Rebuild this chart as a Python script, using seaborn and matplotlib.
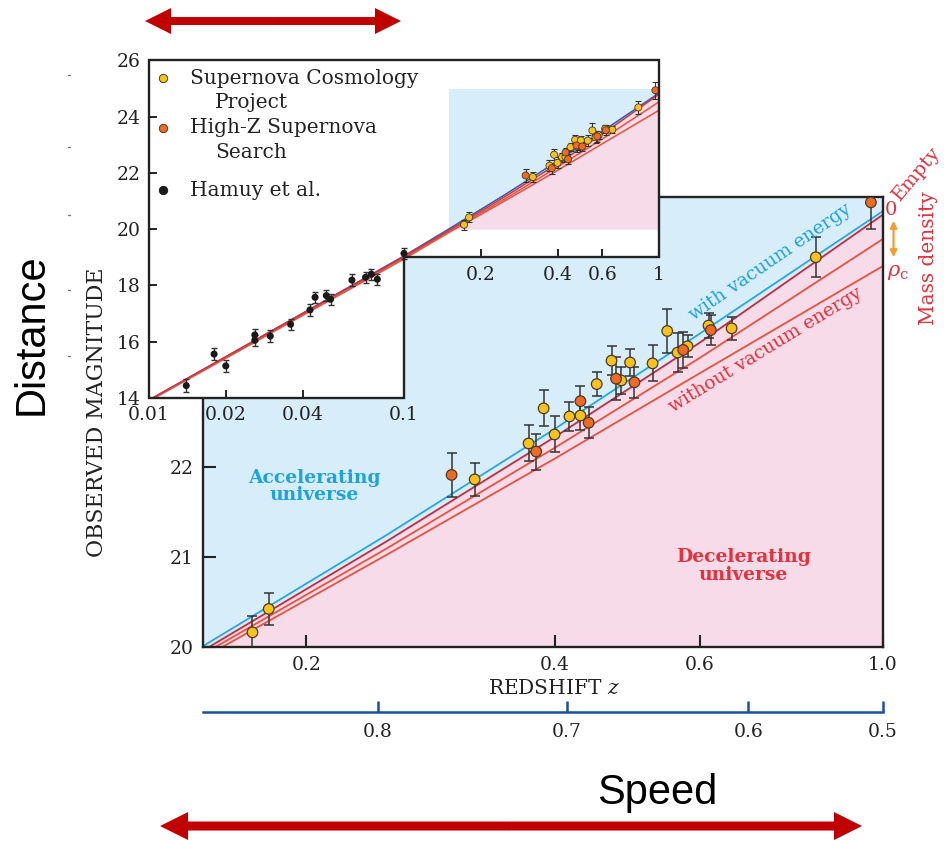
import numpy as np
import pandas as pd
import matplotlib
matplotlib.use("Agg")
import matplotlib.pyplot as plt
import seaborn as sns
from matplotlib.patches import Polygon, FancyArrow
from matplotlib.lines import Line2D
from matplotlib.ticker import NullLocator

# ---------------- data ----------------
scp_z = [0.172, 0.180, 0.320, 0.372, 0.388, 0.400, 0.417, 0.430, 0.450, 0.469,
         0.482, 0.494, 0.526, 0.548, 0.564, 0.580, 0.615, 0.656, 0.830]
scp_m = [20.16, 20.42, 21.86, 22.26, 22.65, 22.36, 22.56, 22.57, 22.92, 23.18,
         22.96, 23.16, 23.15, 23.51, 23.27, 23.34, 23.57, 23.54, 24.33]
scp_e = [0.18, 0.18, 0.18, 0.20, 0.20, 0.20, 0.16, 0.16, 0.13, 0.16,
         0.15, 0.15, 0.20, 0.25, 0.22, 0.12, 0.14, 0.13, 0.22]

hz_z = [0.300, 0.380, 0.430, 0.440, 0.475, 0.500, 0.573, 0.619, 0.968]
hz_m = [21.91, 22.17, 22.73, 22.49, 22.98, 22.94, 23.30, 23.52, 24.94]
hz_e = [0.24, 0.20, 0.17, 0.17, 0.24, 0.17, 0.20, 0.17, 0.30]

hamuy_z = [0.0140, 0.0180, 0.0200, 0.0260, 0.0260, 0.0299, 0.0359, 0.0428,
           0.0448, 0.0496, 0.0515, 0.0625, 0.0707, 0.0745, 0.0786, 0.1000]
hamuy_m = [14.44, 15.56, 15.14, 16.24, 16.05, 16.20, 16.62, 17.13,
           17.58, 17.64, 17.51, 18.19, 18.29, 18.40, 18.22, 19.14]
hamuy_e = [0.22, 0.2, 0.2, 0.2, 0.2, 0.2, 0.2, 0.2,
           0.2, 0.2, 0.2, 0.2, 0.2, 0.2, 0.2, 0.2]

model_z = [0.01, 0.1, 0.15, 0.25, 0.4, 0.6, 1.0]
m_vacuum = [13.92, 19.05, 20.01, 21.24, 22.42, 23.48, 24.84]   # with vacuum energy
m_empty = [13.93, 19.03, 19.96, 21.17, 22.33, 23.38, 24.80]    # empty universe
m_mid = [13.91, 18.99, 19.92, 21.09, 22.21, 23.21, 24.53]
m_crit = [13.89, 18.94, 19.88, 21.02, 22.09, 23.04, 24.23]     # rho_c

main_xticks = [0.2, 0.4, 0.6, 1.0]
main_xlabels = ["0.2", "0.4", "0.6", "1.0"]
main_yticks = [20, 21, 22, 23, 24, 25]
speed_tick_z = [0.244, 0.414, 0.687, 1.0]      # where the lower scale's ticks sit (in z)
speed_labels = ["0.8", "0.7", "0.6", "0.5"]
inset_xticks = [0.01, 0.02, 0.04, 0.1]
inset_xlabels = ["0.01", "0.02", "0.04", "0.1"]
inset_step_ticks = [0.2, 0.4, 0.6, 1.0]
inset_step_labels = ["0.2", "0.4", "0.6", "1"]
inset_yticks = [14, 16, 18, 20, 22, 24, 26]

# ---------------- style ----------------
sns.set_theme(style="white")
plt.rcParams["font.family"] = ["DejaVu Serif"]
plt.rcParams["mathtext.fontset"] = "dejavuserif"

BLUE_BG = "#d8edfa"
PINK = "#f7dbe9"
CYAN = "#2aa6de"
CRIMSON = "#c42a3f"
RED = "#e8523f"
YEL = "#f8c21c"
ORA = "#ef6a24"
TXT = "#222222"
TEXT_CYAN = "#1fa3dc"
TEXT_RED = "#e3313d"
AXBLUE = "#1c4f9c"
EDGE = "#4a3a22"

df = pd.DataFrame({
    "z": scp_z + hz_z,
    "m": scp_m + hz_m,
    "e": scp_e + hz_e,
    "survey": ["Supernova Cosmology Project"] * len(scp_z) + ["High-Z Supernova Search"] * len(hz_z),
})
pal = {"Supernova Cosmology Project": YEL, "High-Z Supernova Search": ORA}

fig = plt.figure(figsize=(9.46, 8.41), dpi=100)

# ---------------- main axes ----------------
ax = fig.add_axes([0.2151, 0.2310, 0.7178, 0.5348])
ax.set_xscale("log")
ax.set_facecolor(BLUE_BG)
ax.fill_between(model_z, 19.0, m_empty, color=PINK, lw=0, zorder=0.5)

for ys, c in [(m_crit, RED), (m_mid, RED), (m_empty, CRIMSON), (m_vacuum, CYAN)]:
    sns.lineplot(x=model_z, y=ys, ax=ax, color=c, lw=1.3, zorder=2)

ax.errorbar(df["z"], df["m"], yerr=df["e"], fmt="none", ecolor="#333333",
            elinewidth=1.1, capsize=3.4, capthick=1.1, zorder=3)
sns.scatterplot(data=df, x="z", y="m", hue="survey", palette=pal, s=58,
                edgecolor=EDGE, linewidth=0.9, legend=False, ax=ax, zorder=4)

ax.set_xlim(0.15, 1.0)
ax.set_ylim(20, 25)
ax.set_xticks(main_xticks, main_xlabels)
ax.xaxis.set_minor_locator(NullLocator())
ax.set_yticks(main_yticks)
ax.tick_params(direction="in", length=9, width=1.5, labelsize=13.5, pad=7,
               colors=TXT, bottom=True, left=True)
for s in ax.spines.values():
    s.set_visible(True)
    s.set_linewidth(1.7)
    s.set_color(TXT)
ax.set_xlabel("REDSHIFT $z$", fontsize=14.5, color=TXT)
ax.xaxis.set_label_coords(0.516, -0.072)
ax.set_ylabel("OBSERVED MAGNITUDE", fontsize=15.8, color=TXT)
ax.yaxis.set_label_coords(-0.141, 0.522)

# lower (speed) scale
sec = ax.secondary_xaxis(-0.1452, functions=(lambda x: x, lambda x: x))
sec.set_xticks(speed_tick_z, speed_labels)
sec.xaxis.set_minor_locator(NullLocator())
sec.spines["bottom"].set_color(AXBLUE)
sec.spines["bottom"].set_linewidth(1.8)
sec.tick_params(direction="in", length=8, width=1.8, color=AXBLUE,
                labelsize=13.5, pad=8, labelcolor=TXT)

# annotations in main axes
ax.text(0.1635, 0.357, "Accelerating\nuniverse", transform=ax.transAxes,
        ha="center", va="center", fontsize=13.5, fontweight="bold",
        color=TEXT_CYAN, linespacing=0.95)
ax.text(0.7953, 0.1795, "Decelerating\nuniverse", transform=ax.transAxes,
        ha="center", va="center", fontsize=13.5, fontweight="bold",
        color=TEXT_RED, linespacing=0.95)
ax.text(0.834, 0.855, "with vacuum energy", transform=ax.transAxes,
        ha="center", va="center", rotation=34.5, rotation_mode="anchor",
        fontsize=13.5, color=TEXT_CYAN)
ax.text(0.827, 0.660, "without vacuum energy", transform=ax.transAxes,
        ha="center", va="center", rotation=31.5, rotation_mode="anchor",
        fontsize=13.5, color=TEXT_RED)
ax.text(1.004, 0.972, "0", transform=ax.transAxes, ha="left", va="center",
        fontsize=14, color=TEXT_RED)
ax.text(1.026, 0.990, "Empty", transform=ax.transAxes, ha="left", va="baseline",
        rotation=50, rotation_mode="anchor", fontsize=14, color=TEXT_RED)
ax.text(1.006, 0.833, r"$\rho_{\rm c}$", transform=ax.transAxes, ha="left",
        va="center", fontsize=15, color=TEXT_RED)
ax.text(1.067, 0.864, "Mass density", transform=ax.transAxes, ha="center",
        va="center", rotation=90, fontsize=14.5, color=TEXT_RED)
ax.annotate("", xy=(1.0162, 0.947), xytext=(1.0162, 0.866),
            xycoords="axes fraction", textcoords="axes fraction",
            arrowprops=dict(arrowstyle="<|-|>", color="#f39c34", lw=1.6,
                            mutation_scale=10, shrinkA=0, shrinkB=0))

# ---------------- inset ----------------
axin = fig.add_axes([0.1575, 0.5268, 0.5391, 0.4013])
axin.set_xscale("log")
axin.set_xlim(0.01, 1.0)
axin.set_ylim(14, 26)
axin.patch.set_visible(False)
for s in axin.spines.values():
    s.set_visible(False)

outline = np.array([[0.01, 14], [0.1, 14], [0.1, 19], [1.0, 19], [1.0, 26], [0.01, 26]])
bg = Polygon(outline, closed=True, facecolor="white", edgecolor="none", zorder=0)
axin.add_patch(bg)
frame = Polygon(outline, closed=True, fill=False, edgecolor=TXT, lw=1.7,
                zorder=7, clip_on=False, joinstyle="miter")
axin.add_patch(frame)

axin.fill_between([0.15, 1.0], 20, 25, color=BLUE_BG, lw=0, zorder=1)
axin.fill_between(model_z, 20, m_empty, where=[z >= 0.15 for z in model_z],
                  color=PINK, lw=0, zorder=1.1)

n_before = len(axin.lines)
for ys, c in [(m_vacuum, "#2f5fb3"), (m_crit, RED), (m_mid, RED), (m_empty, "#d0353f")]:
    sns.lineplot(x=model_z, y=ys, ax=axin, color=c, lw=1.1, zorder=2)
for ln in axin.lines[n_before:]:
    ln.set_clip_path(bg)

axin.errorbar(hamuy_z, hamuy_m, yerr=hamuy_e, fmt="none", ecolor="#333333",
              elinewidth=1.0, capsize=2.5, capthick=1.0, zorder=3)
sns.scatterplot(x=hamuy_z, y=hamuy_m, color="#1a1a1a", s=26, edgecolor="none",
                ax=axin, zorder=4)
axin.errorbar(df["z"], df["m"], yerr=df["e"], fmt="none", ecolor="#333333",
              elinewidth=0.8, capsize=2.0, capthick=0.8, zorder=3)
sns.scatterplot(data=df, x="z", y="m", hue="survey", palette=pal, s=26,
                edgecolor=EDGE, linewidth=0.6, legend=False, ax=axin, zorder=4)

axin.set_xticks(inset_xticks, inset_xlabels)
axin.xaxis.set_minor_locator(NullLocator())
axin.set_yticks(inset_yticks)
axin.tick_params(direction="in", length=6, width=1.4, labelsize=13.5, pad=6,
                 colors=TXT, bottom=True, left=True)
axin.set_xlabel("")
axin.set_ylabel("")

step = axin.secondary_xaxis(5.0 / 12.0, functions=(lambda x: x, lambda x: x))
step.set_xticks(inset_step_ticks, inset_step_labels)
step.xaxis.set_minor_locator(NullLocator())
step.spines["bottom"].set_visible(False)
step.tick_params(direction="in", length=6, width=1.4, labelsize=13.5, pad=6,
                 colors=TXT)

# legend (marker aligned with first line of each entry)
leg_items = [
    (YEL, EDGE, 0.948, "Supernova Cosmology", "Project"),
    (ORA, EDGE, 0.800, "High-Z Supernova", "Search"),
    ("#1a1a1a", "#1a1a1a", 0.616, "Hamuy et al.", None),
]
for fc, ec, yy, l1, l2 in leg_items:
    axin.plot([0.0275], [yy], marker="o", ms=6, mfc=fc, mec=ec, mew=0.7,
              transform=axin.transAxes, zorder=8, clip_on=False)
    axin.text(0.0804, yy, l1, transform=axin.transAxes, va="center", ha="left",
              fontsize=14.5, color=TXT, zorder=8)
    if l2:
        axin.text(0.1294, yy - 0.074, l2, transform=axin.transAxes, va="center",
                  ha="left", fontsize=14.5, color=TXT, zorder=8)

# ---------------- figure decorations ----------------
fig.text(0.0338, 0.603, "Distance", rotation=90, ha="center", va="center",
         fontsize=30, family="Liberation Sans", color="black")
fig.text(0.6945, 0.0571, "Speed", ha="center", va="center",
         fontsize=30, family="Liberation Sans", color="black")

# faint specks left of the inset
for yy in [0.911, 0.825, 0.744, 0.655, 0.577]:
    fig.add_artist(Line2D([0.0715, 0.0735], [yy, yy], transform=fig.transFigure,
                          color="#777777", lw=1.0))

def double_arrow(xc, half, y, shaft, head_w, head_l):
    for d in (-half, half):
        fig.add_artist(FancyArrow(xc, y, d, 0, width=shaft, head_width=head_w,
                                  head_length=head_l, length_includes_head=True,
                                  transform=fig.transFigure, color="#c00000", lw=0))

double_arrow(0.2886, 0.1353, 0.975, 0.0095, 0.0309, 0.0275)
double_arrow(0.5402, 0.3710, 0.0178, 0.0107, 0.0333, 0.0296)

fig.savefig("out.png", dpi=100)
